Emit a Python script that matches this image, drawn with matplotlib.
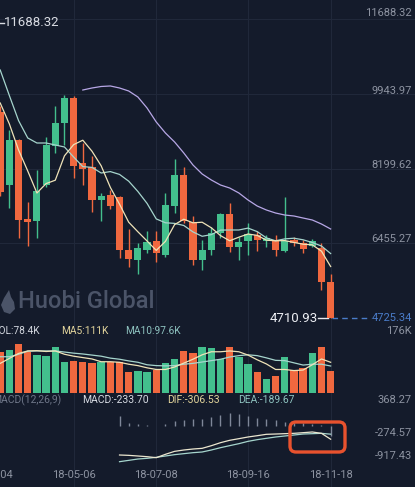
import numpy as np
import matplotlib
matplotlib.use("Agg")
import matplotlib.pyplot as plt
from matplotlib.patches import FancyBboxPatch, Polygon
from matplotlib.transforms import IdentityTransform, blended_transform_factory

# weekly candles, 18-03-11 .. 18-11-18
opens = [9519, 7816, 8866, 7023, 6976, 7816, 8726, 9262, 9846, 8329, 8236, 7466, 7583,
         7536, 6300, 6067, 6300, 6510, 6183, 7326, 8049, 6953, 6067, 6300, 6697, 7140,
         6370, 6510, 6650, 6510, 6533, 6277, 6533, 6463, 6393, 6347, 5554]
highs = [9659, 9099, 8889, 7420, 8166, 8936, 9659, 9915, 9892, 8796, 8493, 7630, 7700,
         7560, 6790, 6463, 6743, 6743, 7630, 8423, 8236, 7093, 6533, 6837, 7163, 7396,
         6603, 6930, 6743, 6650, 6650, 7536, 6603, 6533, 6557, 6463, 5740]
lows = [7560, 7280, 6580, 6393, 6580, 7770, 8563, 8749, 7979, 7816, 7186, 6976, 7256,
        6113, 5903, 5740, 6230, 6020, 6137, 7163, 6930, 5950, 5833, 6183, 6580, 6253,
        6067, 6183, 6277, 6370, 6160, 6253, 6393, 6230, 6370, 5367, 4710.93]
closes = [7653, 8866, 7000, 6953, 7676, 8749, 9262, 9846, 8259, 8189, 7466, 7560, 7326,
          6300, 6090, 6347, 6487, 6230, 7350, 8049, 6976, 6067, 6300, 6697, 7140, 6370,
          6487, 6673, 6533, 6580, 6300, 6510, 6463, 6323, 6510, 5554, 4725.34]

nan = np.nan
ma5 = [9729, 9239, 8633, 8143, 7630, 7849, 7928, 8497, 8758, 8861, 8604, 8264, 7760,
       7368, 6948, 6725, 6510, 6291, 6501, 6893, 7018, 6934, 6948, 6818, 6636, 6515,
       6599, 6673, 6641, 6529, 6515, 6519, 6477, 6435, 6421, 6272, 5915]
ma10 = [10499, 9901, 9318, 8913, 8796, 8796, 8749, 8703, 8469, 8245, 8227, 8096, 8129,
        8063, 7905, 7665, 7387, 7025, 6935, 6921, 6872, 6722, 6620, 6659, 6764, 6767,
        6767, 6811, 6729, 6582, 6515, 6559, 6575, 6538, 6475, 6393, 6217]
ma30 = [nan] * 9 + [10032, 10079, 10114, 10126, 10079, 10009, 9869, 9612, 9286, 9029,
                    8819, 8563, 8283, 8073, 7933, 7816, 7746, 7630, 7466, 7326, 7233,
                    7163, 7116, 7093, 7046, 7000, 6906, 6790]

# volume in K
vol = [149, 155, 177, 149, 137, 134, 165, 113, 117, 113, 107, 113, 113, 111, 75, 81, 77,
       83, 107, 123, 152, 143, 167, 161, 123, 165, 129, 105, 77, 49, 63, 131, 83, 89, 146,
       165, 78.4]
vol_ma5 = [107, 125, 143, 152, 153, 150, 152, 140, 133, 128, 123, 113, 113, 111, 104, 99,
           91, 85, 85, 94, 108, 122, 138, 149, 149, 152, 149, 137, 120, 105, 85, 85, 81,
           83, 102, 123, 111]
vol_ma10 = [131, 131, 140, 151, 152, 152, 152, 148, 144, 141, 137, 133, 126, 122, 116,
            111, 102, 99, 98, 99, 104, 107, 112, 117, 122, 130, 135, 138, 135, 127, 118,
            117, 109, 101, 104, 104, 97.6]

# MACD(12,26,9), visible from the 14th candle
dif = [nan] * 13 + [-673, -681, -696, -712, -735, -657, -588, -557, -534, -518, -457,
                    -387, -332, -294, -255, -225, -193, -186, -178, -170, -155, -139,
                    -170, -306.53]
dea = [nan] * 13 + [-828, -797, -766, -750, -727, -696, -665, -642, -619, -603, -557,
                    -503, -456, -410, -356, -317, -286, -255, -232, -209, -186, -178,
                    -170, -189.67]
hist = [nan] * 13 + [232, 78, 46, 16, 8, 46, 116, 130, 155, 170, 218, 255, 294, 270, 232,
                     193, 155, 130, 93, 62, 70, 54, 15, -233.70]

price_ticks = [11688.32, 9943.97, 8199.62, 6455.27]
date_idx = [-1, 8, 17, 27, 36]
date_labels = ["18-03-04", "18-05-06", "18-07-08", "18-09-16", "18-11-18"]

W, H = 415, 487
BG = "#141b2b"
GRID = "#20283a"
GREEN = "#43bf8d"
RED = "#f0683f"
C_MA5 = "#efe3b8"
C_MA10 = "#a6d5cd"
C_MA30 = "#b7a7e6"
C_AXIS = "#8d93a1"

plt.rcParams["font.family"] = ["Roboto", "DejaVu Sans"]

fig = plt.figure(figsize=(W / 100, H / 100), dpi=100, facecolor=BG)

X_LEFT, X_RIGHT = -0.022, 45.19


def panel(top, bottom):
    ax = fig.add_axes([0, 1 - bottom / H, 1, (bottom - top) / H])
    ax.set_axis_off()
    ax.set_xlim(X_LEFT, X_RIGHT)
    for g in date_idx[1:]:
        ax.axvline(g, color=GRID, lw=0.8, zorder=0)
    return ax


def ptext(x, y, s, **kw):
    fig.text(x / W, 1 - y / H, s, **kw)


idx = np.arange(len(closes))
o, h, l, c = map(np.array, (opens, highs, lows, closes))
colors = np.where(c >= o, GREEN, RED)

# --- price panel
ax = panel(0, 326)
ax.set_ylim(4527.2, 12131.5)
for v in price_ticks:
    ax.axhline(v, color=GRID, lw=0.8, zorder=0)
ax.vlines(idx, l, h, colors=colors, lw=1.0, zorder=2)
ax.bar(idx, np.maximum(np.abs(c - o), 25), bottom=np.minimum(o, c), width=0.78,
       color=colors, zorder=3)
ax.plot(idx, ma30, color=C_MA30, lw=0.9, zorder=4)
ax.plot(idx, ma10, color=C_MA10, lw=0.9, zorder=4)
ax.plot(idx, ma5, color=C_MA5, lw=0.9, zorder=4)

# last price / low markers
ax.plot([34.62, 35.7], [lows[-1], lows[-1]], color="#e6e8ee", lw=1.0)
ax.text(34.55, lows[-1], f"{lows[-1]:.2f}", ha="right", va="center", color="#eceef3",
        fontsize=9.5)
ax.plot([36.2, 40.4], [closes[-1], closes[-1]], color="#4a7cc9", lw=1.0,
        dashes=(4, 3))

for v, yc in zip(price_ticks, [13, 91, 165, 239]):
    ptext(412, yc, f"{v:.2f}", ha="right", va="center", color=C_AXIS, fontsize=8)
ptext(412, 318, f"{closes[-1]:.2f}", ha="right", va="center", color="#4a7cc9",
      fontsize=8)
fig.add_artist(plt.Line2D([0, 4 / W], [1 - 23 / H, 1 - 23 / H], color="#d8dbe2", lw=1))
ptext(4, 23, "11688.32", ha="left", va="center", color="#d8dbe2", fontsize=9.5)

# watermark
ptext(18, 302, "Huobi Global", ha="left", va="center", color="#4b5468", fontsize=17,
      fontweight="medium")
flame = [(9, 290), (4, 298), (1, 305), (4, 312), (10, 314), (15, 309), (14, 302),
         (11, 297)]
fig.add_artist(Polygon([(x, H - y) for x, y in flame], closed=True, fc="#4b5468",
                       ec="none", transform=IdentityTransform()))

# --- volume panel
axv = panel(326, 393)
axv.set_ylim(0, 242.1)
axv.bar(idx, vol, width=0.8, color=colors, zorder=2)
axv.plot(idx, vol_ma10, color=C_MA10, lw=0.9, zorder=3)
axv.plot(idx, vol_ma5, color=C_MA5, lw=0.9, zorder=3)
ptext(-7, 331.5, "VOL:78.4K", ha="left", va="center", color="#d3d7df", fontsize=7.3)
ptext(61, 331.5, "MA5:111K", ha="left", va="center", color="#e3d59c", fontsize=7.3)
ptext(125, 331.5, "MA10:97.6K", ha="left", va="center", color="#8ec3c0", fontsize=7.3)
ptext(412, 331.5, "176K", ha="right", va="center", color=C_AXIS, fontsize=8)

# --- MACD panel
axm = panel(393, 487)
axm.set_ylim(-1415.2, 765.6)
axm.vlines(idx, 0, hist, colors="#7f8799", lw=1.0, zorder=2)
axm.plot(idx, dea, color=C_MA10, lw=0.9, zorder=3)
axm.plot(idx, dif, color="#ebe6cf", lw=0.9, zorder=3)
ptext(-8, 400, "MACD(12,26,9)", ha="left", va="center", color="#6e7688", fontsize=7.5)
ptext(82, 400, "MACD:-233.70", ha="left", va="center", color="#d6dae2", fontsize=7.5)
ptext(167, 400, "DIF:-306.53", ha="left", va="center", color="#e3d59c", fontsize=7.5)
ptext(238, 400, "DEA:-189.67", ha="left", va="center", color="#8ec3c0", fontsize=7.5)
for s, yc in zip(["368.27", "-274.57", "-917.43"], [400, 433, 456]):
    ptext(412, yc, s, ha="right", va="center", color=C_AXIS, fontsize=8)

bt = blended_transform_factory(axm.transData, axm.transAxes)
for i, s in zip(date_idx, date_labels):
    axm.text(i, 12 / 94, s, transform=bt, ha="center", va="center", color=C_AXIS,
             fontsize=8, clip_on=False)

box = FancyBboxPatch((290, H - 452), 55, 30, boxstyle="round,pad=0,rounding_size=6",
                     fill=False, ec="#e8522e", lw=2.4, transform=IdentityTransform())
fig.add_artist(box)

fig.savefig("out.png", dpi=100, facecolor=BG)
